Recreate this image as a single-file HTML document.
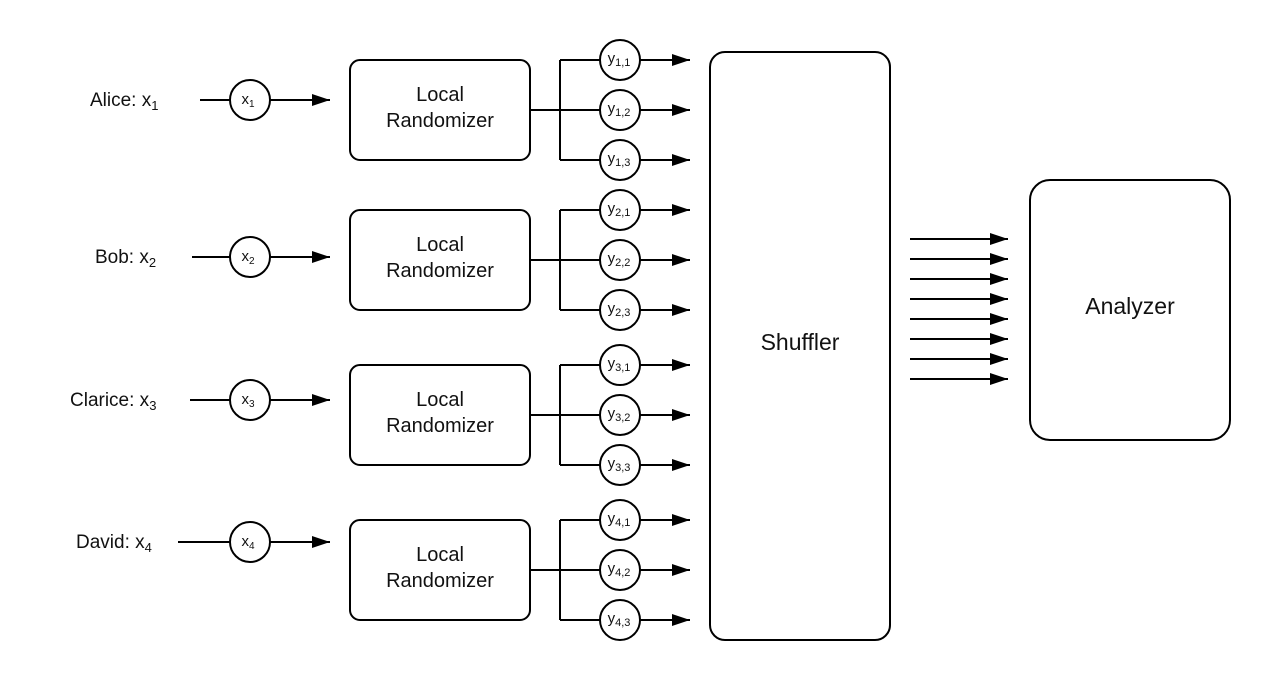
<!DOCTYPE html>
<html><head><meta charset="utf-8"><style>
html,body{margin:0;padding:0;background:#fff;}
svg{display:block;}
text{font-family:"Liberation Sans",sans-serif;fill:#111;}
</style></head><body>
<svg width="1270" height="680" viewBox="0 0 1270 680" xmlns="http://www.w3.org/2000/svg">
<defs>
<marker id="a" markerWidth="20" markerHeight="12" refX="18" refY="6" orient="auto" markerUnits="userSpaceOnUse">
<path d="M0,0 L18,6 L0,12 z" fill="#000"/></marker>
</defs>
<g stroke="#000" stroke-width="2" fill="none">
<!-- boxes -->
<rect x="350" y="60" width="180" height="100" rx="10"/>
<rect x="350" y="210" width="180" height="100" rx="10"/>
<rect x="350" y="365" width="180" height="100" rx="10"/>
<rect x="350" y="520" width="180" height="100" rx="10"/>
<rect x="710" y="52" width="180" height="588" rx="15"/>
<rect x="1030" y="180" width="200" height="260" rx="20"/>
<!-- input lines -->
<line x1="200" y1="100" x2="230" y2="100"/><line x1="270" y1="100" x2="330" y2="100" marker-end="url(#a)"/>
<line x1="192" y1="257" x2="230" y2="257"/><line x1="270" y1="257" x2="330" y2="257" marker-end="url(#a)"/>
<line x1="190" y1="400" x2="230" y2="400"/><line x1="270" y1="400" x2="330" y2="400" marker-end="url(#a)"/>
<line x1="178" y1="542" x2="230" y2="542"/><line x1="270" y1="542" x2="330" y2="542" marker-end="url(#a)"/>
<circle cx="250" cy="100" r="20"/><circle cx="250" cy="257" r="20"/><circle cx="250" cy="400" r="20"/><circle cx="250" cy="542" r="20"/>
<!-- branches -->
<path d="M530,110 H600 M560,60 V160 M560,60 H600 M560,160 H600"/>
<path d="M530,260 H600 M560,210 V310 M560,210 H600 M560,310 H600"/>
<path d="M530,415 H600 M560,365 V465 M560,365 H600 M560,465 H600"/>
<path d="M530,570 H600 M560,520 V620 M560,520 H600 M560,620 H600"/>
<g marker-end="url(#a)">
<line x1="640" y1="60" x2="690" y2="60"/><line x1="640" y1="110" x2="690" y2="110"/><line x1="640" y1="160" x2="690" y2="160"/>
<line x1="640" y1="210" x2="690" y2="210"/><line x1="640" y1="260" x2="690" y2="260"/><line x1="640" y1="310" x2="690" y2="310"/>
<line x1="640" y1="365" x2="690" y2="365"/><line x1="640" y1="415" x2="690" y2="415"/><line x1="640" y1="465" x2="690" y2="465"/>
<line x1="640" y1="520" x2="690" y2="520"/><line x1="640" y1="570" x2="690" y2="570"/><line x1="640" y1="620" x2="690" y2="620"/>
<line x1="910" y1="239" x2="1008" y2="239"/><line x1="910" y1="259" x2="1008" y2="259"/><line x1="910" y1="279" x2="1008" y2="279"/><line x1="910" y1="299" x2="1008" y2="299"/>
<line x1="910" y1="319" x2="1008" y2="319"/><line x1="910" y1="339" x2="1008" y2="339"/><line x1="910" y1="359" x2="1008" y2="359"/><line x1="910" y1="379" x2="1008" y2="379"/>
</g>
<g fill="#fff">
<circle cx="620" cy="60" r="20"/><circle cx="620" cy="110" r="20"/><circle cx="620" cy="160" r="20"/>
<circle cx="620" cy="210" r="20"/><circle cx="620" cy="260" r="20"/><circle cx="620" cy="310" r="20"/>
<circle cx="620" cy="365" r="20"/><circle cx="620" cy="415" r="20"/><circle cx="620" cy="465" r="20"/>
<circle cx="620" cy="520" r="20"/><circle cx="620" cy="570" r="20"/><circle cx="620" cy="620" r="20"/>
</g>
</g>
<!-- labels -->
<g font-size="19">
<text x="90" y="106">Alice: x<tspan font-size="13" dy="4">1</tspan></text>
<text x="95" y="263">Bob: x<tspan font-size="13" dy="4">2</tspan></text>
<text x="70" y="406">Clarice: x<tspan font-size="13" dy="4">3</tspan></text>
<text x="76" y="548">David: x<tspan font-size="13" dy="4">4</tspan></text>
</g>
<g font-size="15" text-anchor="middle">
<text x="248" y="104">x<tspan font-size="10" dy="3">1</tspan></text>
<text x="248" y="261">x<tspan font-size="10" dy="3">2</tspan></text>
<text x="248" y="404">x<tspan font-size="10" dy="3">3</tspan></text>
<text x="248" y="546">x<tspan font-size="10" dy="3">4</tspan></text>
</g>
<g font-size="20" text-anchor="middle">
<text x="440" y="101">Local</text><text x="440" y="127">Randomizer</text>
<text x="440" y="251">Local</text><text x="440" y="277">Randomizer</text>
<text x="440" y="406">Local</text><text x="440" y="432">Randomizer</text>
<text x="440" y="561">Local</text><text x="440" y="587">Randomizer</text>
<text x="800" y="350" font-size="23">Shuffler</text>
<text x="1130" y="314" font-size="23">Analyzer</text>
</g>
<g font-size="15" text-anchor="middle">
<text x="619" y="63">y<tspan font-size="11" dy="3">1,1</tspan></text>
<text x="619" y="113">y<tspan font-size="11" dy="3">1,2</tspan></text>
<text x="619" y="163">y<tspan font-size="11" dy="3">1,3</tspan></text>
<text x="619" y="213">y<tspan font-size="11" dy="3">2,1</tspan></text>
<text x="619" y="263">y<tspan font-size="11" dy="3">2,2</tspan></text>
<text x="619" y="313">y<tspan font-size="11" dy="3">2,3</tspan></text>
<text x="619" y="368">y<tspan font-size="11" dy="3">3,1</tspan></text>
<text x="619" y="418">y<tspan font-size="11" dy="3">3,2</tspan></text>
<text x="619" y="468">y<tspan font-size="11" dy="3">3,3</tspan></text>
<text x="619" y="523">y<tspan font-size="11" dy="3">4,1</tspan></text>
<text x="619" y="573">y<tspan font-size="11" dy="3">4,2</tspan></text>
<text x="619" y="623">y<tspan font-size="11" dy="3">4,3</tspan></text>
</g>
</svg>
</body></html>
